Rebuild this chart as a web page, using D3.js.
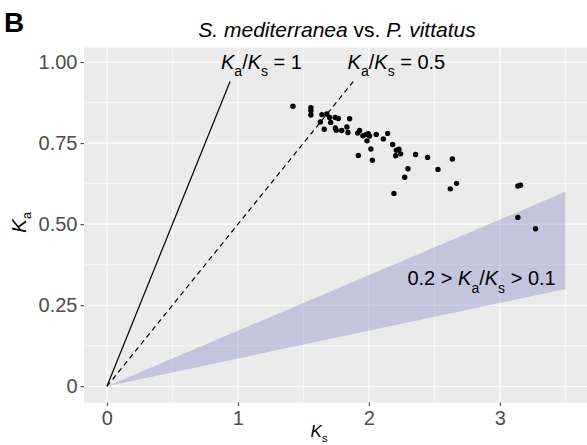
<!DOCTYPE html>
<html>
<head>
<meta charset="utf-8">
<script src="https://cdn.jsdelivr.net/npm/d3@7"></script>
<style>
  body { margin: 0; background: #fff; }
  svg { display: block; font-family: "Liberation Sans", Arial, sans-serif; }
</style>
</head>
<body>
<div id="chart"></div>
<script>
// Ks / Ka per gene pair
const ksValues = [1.42, 1.557, 1.557, 1.557, 1.641, 1.679, 1.70, 1.629, 1.708, 1.743,
  1.766, 1.853, 1.659, 1.743, 1.751, 1.792, 1.832, 1.840, 1.929, 1.914,
  1.954, 1.980, 1.995, 2.005, 1.985, 2.056, 2.110, 2.143, 2.181, 2.209,
  2.229, 2.242, 2.204, 2.015, 1.919, 2.026, 2.356, 2.298, 2.273, 2.448,
  2.637, 2.527, 2.669, 2.621, 3.137, 3.158, 3.137, 3.272, 2.191];
const kaValues = [0.864, 0.859, 0.850, 0.837, 0.838, 0.840, 0.829, 0.815, 0.814, 0.829,
  0.826, 0.825, 0.793, 0.797, 0.790, 0.789, 0.800, 0.783, 0.789, 0.781,
  0.773, 0.777, 0.779, 0.772, 0.757, 0.777, 0.763, 0.780, 0.746, 0.728,
  0.731, 0.717, 0.711, 0.732, 0.712, 0.697, 0.715, 0.671, 0.645, 0.706,
  0.701, 0.669, 0.626, 0.609, 0.618, 0.620, 0.521, 0.486, 0.595];

// reference lines Ka/Ks = 1 and 0.5, both stop at Ka = 0.94
const ratioLines = [
  { name: "one", xs: [0, 0.94], ys: [0, 0.94], dash: null },
  { name: "half", xs: [0, 1.88], ys: [0, 0.94], dash: "5,4" }
];

// shaded band
const ribbonX = [0, 3.5];
const ribbonLow = [0, 0.3];
const ribbonHigh = [0, 0.6];

// tick labels
const xTicks = [0, 1, 2, 3];
const xTickLabels = ["0", "1", "2", "3"];
const yTicks = [0, 0.25, 0.5, 0.75, 1];
const yTickLabels = ["0", "0.25", "0.50", "0.75", "1.00"];

// annotation labels (x, y in data units)
const annoX = [1.18, 2.21, 2.86];
const annoY = [1.0, 1.0, 0.333];
const annoParts = [
  [["K", "i"], ["a", "s"], ["/", ""], ["K", "i"], ["s", "s"], [" = 1", ""]],
  [["K", "i"], ["a", "s"], ["/", ""], ["K", "i"], ["s", "s"], [" = 0.5", ""]],
  [["0.2 > ", ""], ["K", "i"], ["a", "s"], ["/", ""], ["K", "i"], ["s", "s"], [" > 0.1", ""]]
];

const W = 587, H = 445;
const panel = { left: 84, right: 589, top: 47.5, bottom: 402.5 };

const x = d3.scaleLinear().domain([-0.175, 3.68]).range([panel.left, panel.right]);
const y = d3.scaleLinear().domain([-0.05, 1.045]).range([panel.bottom, panel.top]);

const svg = d3.select("#chart").append("svg")
  .attr("width", W)
  .attr("height", H);

// panel background
svg.append("rect")
  .attr("x", panel.left).attr("y", panel.top)
  .attr("width", panel.right - panel.left)
  .attr("height", panel.bottom - panel.top)
  .attr("fill", "#ebebeb");

// grid: minor then major
const grid = svg.append("g");
const xMinor = [0.5, 1.5, 2.5, 3.5];
const yMinor = [0.125, 0.375, 0.625, 0.875];
grid.selectAll(".xminor").data(xMinor).join("line")
  .attr("x1", d => x(d)).attr("x2", d => x(d))
  .attr("y1", panel.top).attr("y2", panel.bottom)
  .attr("stroke", "#fff").attr("stroke-width", 0.6);
grid.selectAll(".yminor").data(yMinor).join("line")
  .attr("y1", d => y(d)).attr("y2", d => y(d))
  .attr("x1", panel.left).attr("x2", panel.right)
  .attr("stroke", "#fff").attr("stroke-width", 0.6);
grid.selectAll(".xmajor").data(xTicks).join("line")
  .attr("x1", d => x(d)).attr("x2", d => x(d))
  .attr("y1", panel.top).attr("y2", panel.bottom)
  .attr("stroke", "#fff").attr("stroke-width", 1.2);
grid.selectAll(".ymajor").data(yTicks).join("line")
  .attr("y1", d => y(d)).attr("y2", d => y(d))
  .attr("x1", panel.left).attr("x2", panel.right)
  .attr("stroke", "#fff").attr("stroke-width", 1.2);

// ribbon
const ribbonData = ribbonX.map((v, i) => ({ x: v, lo: ribbonLow[i], hi: ribbonHigh[i] }));
const area = d3.area()
  .x(d => x(d.x))
  .y0(d => y(d.lo))
  .y1(d => y(d.hi));
svg.append("path")
  .attr("d", area(ribbonData))
  .attr("fill", "rgb(138,140,201)")
  .attr("fill-opacity", 0.4);

// ratio lines
const line = d3.line().x(d => x(d[0])).y(d => y(d[1]));
ratioLines.forEach(l => {
  svg.append("path")
    .attr("d", line(l.xs.map((v, i) => [v, l.ys[i]])))
    .attr("fill", "none")
    .attr("stroke", "#000")
    .attr("stroke-width", 1.2)
    .attr("stroke-dasharray", l.dash);
});

// points
svg.append("g").selectAll("circle")
  .data(ksValues.map((v, i) => [v, kaValues[i]]))
  .join("circle")
  .attr("cx", d => x(d[0]))
  .attr("cy", d => y(d[1]))
  .attr("r", 2.7)
  .attr("fill", "#000");

// rich text helper: parts = [text, style] where style i = italic, s = subscript
const richText = (sel, parts, size, subScale = 0.7, subShift = 0.36) => {
  parts.forEach((p, i) => {
    const prev = i > 0 ? parts[i - 1][1] : "";
    let dy = 0;
    if (p[1] === "s" && prev !== "s") dy = size * subShift;
    if (p[1] !== "s" && prev === "s") dy = -size * subShift;
    sel.append("tspan")
      .attr("dy", dy)
      .attr("font-style", p[1] === "i" ? "italic" : "normal")
      .attr("font-size", p[1] === "s" ? size * subScale : size)
      .text(p[0]);
  });
};

// annotations
annoParts.forEach((parts, i) => {
  const t = svg.append("text")
    .attr("x", x(annoX[i]))
    .attr("y", y(annoY[i]) + 7)
    .attr("text-anchor", "middle")
    .attr("fill", "#000");
  richText(t, parts, 20);
});

// axes
const xAxis = d3.axisBottom(x)
  .tickValues(xTicks)
  .tickFormat((d, i) => xTickLabels[i])
  .tickSize(3.5)
  .tickPadding(5);
const yAxis = d3.axisLeft(y)
  .tickValues(yTicks)
  .tickFormat((d, i) => yTickLabels[i])
  .tickSize(3.5)
  .tickPadding(3);

const gx = svg.append("g")
  .attr("transform", "translate(0," + panel.bottom + ")")
  .call(xAxis);
const gy = svg.append("g")
  .attr("transform", "translate(" + panel.left + ",0)")
  .call(yAxis);
[gx, gy].forEach(g => {
  g.select(".domain").remove();
  g.selectAll(".tick line").attr("stroke", "#333").attr("stroke-width", 1);
  g.selectAll(".tick text")
    .attr("fill", "#4d4d4d")
    .attr("font-size", 20)
    .attr("font-family", "Liberation Sans, Arial, sans-serif");
});

// axis titles
const xt = svg.append("text")
  .attr("x", 319)
  .attr("y", 437)
  .attr("text-anchor", "middle");
richText(xt, [["K", "i"], ["s", "s"]], 17, 0.65, 0.3);

const yt = svg.append("text")
  .attr("transform", "translate(26,222.5) rotate(-90)")
  .attr("text-anchor", "middle");
richText(yt, [["K", "i"], ["a", "s"]], 21, 0.6, 0.25);

// title
const title = svg.append("text")
  .attr("x", 337)
  .attr("y", 36.5)
  .attr("text-anchor", "middle")
  .attr("font-size", 21);
title.append("tspan").attr("font-style", "italic").text("S. mediterranea");
title.append("tspan").text(" vs. ");
title.append("tspan").attr("font-style", "italic").text("P. vittatus");

// panel tag
svg.append("text")
  .attr("x", 4)
  .attr("y", 32)
  .attr("font-size", 28)
  .attr("font-weight", "bold")
  .text("B");
</script>
</body>
</html>
